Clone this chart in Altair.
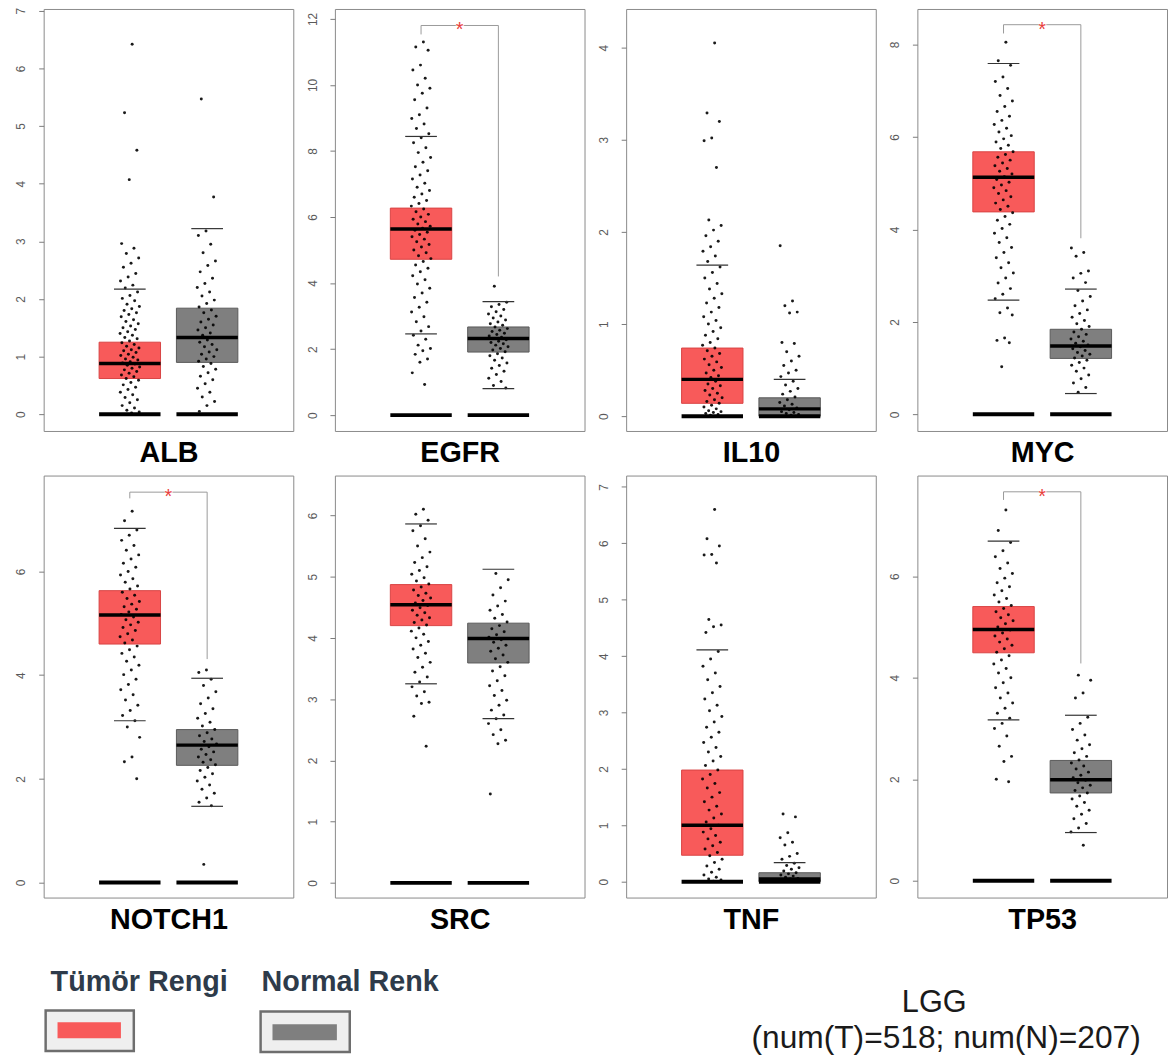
import altair as alt
import pandas as pd

GENES = ["ALB", "EGFR", "IL10", "MYC", "NOTCH1", "SRC", "TNF", "TP53"]
GROUPS = ["Tümör", "Normal"]
BOX_FILL = ["#f85a5a", "#7f7f7f"]
BOX_EDGE = ["#d94444", "#5a5a5a"]

Y_DOMAIN = {"ALB": [-0.29, 7.03], "EGFR": [-0.48, 12.3], "IL10": [-0.16, 4.42],
            "MYC": [-0.36, 8.77], "NOTCH1": [-0.29, 7.85], "SRC": [-0.24, 6.65],
            "TNF": [-0.28, 7.2], "TP53": [-0.33, 7.98]}
Y_TICKS = {"ALB": [0, 1, 2, 3, 4, 5, 6, 7], "EGFR": [0, 2, 4, 6, 8, 10, 12],
           "IL10": [0, 1, 2, 3, 4], "MYC": [0, 2, 4, 6, 8], "NOTCH1": [0, 2, 4, 6],
           "SRC": [0, 1, 2, 3, 4, 5, 6], "TNF": [0, 1, 2, 3, 4, 5, 6, 7], "TP53": [0, 2, 4, 6]}

# box statistics [Tümör, Normal]
Q1 = {"ALB": [0.62, 0.90], "EGFR": [4.72, 1.91], "IL10": [0.14, 0.0], "MYC": [4.38, 1.21],
      "NOTCH1": [4.60, 2.26], "SRC": [4.20, 3.59], "TNF": [0.47, 0.0], "TP53": [4.49, 1.73]}
MED = {"ALB": [0.88, 1.33], "EGFR": [5.64, 2.32], "IL10": [0.40, 0.08], "MYC": [5.13, 1.48],
       "NOTCH1": [5.16, 2.65], "SRC": [4.54, 3.99], "TNF": [1.00, 0.05], "TP53": [4.95, 1.99]}
Q3 = {"ALB": [1.25, 1.84], "EGFR": [6.27, 2.67], "IL10": [0.74, 0.20], "MYC": [5.68, 1.84],
      "NOTCH1": [5.63, 2.95], "SRC": [4.87, 4.24], "TNF": [1.98, 0.16], "TP53": [5.40, 2.37]}
CAP_LO = {"ALB": [0.0, 0.0], "EGFR": [2.46, 0.80], "IL10": [0.0, 0.0], "MYC": [2.47, 0.45],
          "NOTCH1": [3.12, 1.47], "SRC": [3.25, 2.68], "TNF": [0.0, 0.0], "TP53": [3.17, 0.95]}
CAP_HI = {"ALB": [2.17, 3.22], "EGFR": [8.44, 3.44], "IL10": [1.64, 0.40], "MYC": [7.59, 2.71],
          "NOTCH1": [6.83, 3.94], "SRC": [5.86, 5.12], "TNF": [4.11, 0.34], "TP53": [6.69, 3.26]}

# individual sample points (estimated)
PTS_T = {
    "ALB": [6.42, 5.23, 4.58, 4.07, 2.96, 2.88, 2.79, 2.71, 2.62, 2.55, 2.44, 2.38, 2.31, 2.24, 2.19, 2.12,
            2.06, 2.01, 1.97, 1.91, 1.87, 1.83, 1.8, 1.76, 1.73, 1.69, 1.64, 1.61, 1.57, 1.53, 1.5, 1.47,
            1.43, 1.4, 1.37, 1.33, 1.31, 1.27, 1.24, 1.21, 1.18, 1.15, 1.12, 1.1, 1.07, 1.04, 1.02, 0.99,
            0.96, 0.94, 0.91, 0.89, 0.87, 0.85, 0.82, 0.8, 0.77, 0.74, 0.71, 0.68, 0.65, 0.62, 0.59, 0.55,
            0.51, 0.47, 0.43, 0.38, 0.34, 0.29, 0.25, 0.2, 0.15, 0.11, 0.07, 0.04, 0.02],
    "EGFR": [11.3, 11.15, 11.05, 10.6, 10.45, 10.2, 10.0, 9.9, 9.75, 9.55, 9.3, 9.1, 8.98, 8.82, 8.68, 8.52,
             8.4, 8.25, 8.1, 7.95, 7.8, 7.66, 7.52, 7.4, 7.27, 7.15, 7.02, 6.9, 6.8, 6.7, 6.6, 6.5, 6.41,
             6.33, 6.24, 6.16, 6.08, 6.0, 5.93, 5.86, 5.79, 5.72, 5.66, 5.6, 5.54, 5.47, 5.4, 5.33, 5.25,
             5.17, 5.09, 5.0, 4.92, 4.83, 4.74, 4.65, 4.55, 4.45, 4.34, 4.22, 4.1, 3.97, 3.84, 3.7, 3.56,
             3.42, 3.27, 3.12, 2.98, 2.83, 2.68, 2.55, 2.42, 2.3, 2.12, 2.02, 1.95, 1.84, 1.7, 1.6, 1.28, 0.93],
    "IL10": [4.05, 3.29, 3.2, 3.02, 2.99, 2.7, 2.13, 2.07, 2.02, 1.96, 1.9, 1.84, 1.79, 1.74, 1.68, 1.62,
             1.56, 1.5, 1.44, 1.38, 1.33, 1.28, 1.23, 1.18, 1.13, 1.08, 1.04, 1.0, 0.96, 0.92, 0.88, 0.84,
             0.8, 0.77, 0.74, 0.71, 0.68, 0.65, 0.62, 0.59, 0.56, 0.53, 0.5, 0.47, 0.44, 0.42, 0.4, 0.38,
             0.35, 0.33, 0.3, 0.28, 0.25, 0.23, 0.2, 0.18, 0.16, 0.14, 0.12, 0.1, 0.08, 0.06, 0.05, 0.04,
             0.03, 0.02, 0.01],
    "MYC": [8.05, 7.65, 7.55, 7.3, 7.2, 7.05, 6.9, 6.78, 6.66, 6.55, 6.45, 6.36, 6.27, 6.19, 6.11, 6.03,
            5.96, 5.89, 5.82, 5.75, 5.68, 5.62, 5.56, 5.5, 5.44, 5.38, 5.32, 5.26, 5.2, 5.14, 5.08, 5.02,
            4.96, 4.9, 4.84, 4.78, 4.71, 4.64, 4.57, 4.5, 4.43, 4.36, 4.28, 4.2, 4.11, 4.02, 3.92, 3.82,
            3.72, 3.61, 3.5, 3.39, 3.28, 3.17, 3.06, 2.95, 2.84, 2.72, 2.6, 2.5, 2.3, 2.2, 2.15, 1.65,
            1.6, 1.55, 1.03],
    "NOTCH1": [7.16, 6.98, 6.8, 6.7, 6.6, 6.5, 6.41, 6.32, 6.24, 6.16, 6.08, 6.0, 5.93, 5.86, 5.79, 5.72,
               5.66, 5.6, 5.54, 5.48, 5.42, 5.37, 5.32, 5.27, 5.22, 5.17, 5.12, 5.07, 5.02, 4.97, 4.92,
               4.86, 4.8, 4.74, 4.68, 4.62, 4.56, 4.49, 4.42, 4.35, 4.27, 4.19, 4.1, 4.01, 3.92, 3.82,
               3.72, 3.62, 3.52, 3.42, 3.32, 3.22, 3.12, 3.0, 2.8, 2.42, 2.33, 2.0],
    "SRC": [6.1, 6.02, 5.92, 5.83, 5.75, 5.62, 5.5, 5.4, 5.31, 5.23, 5.16, 5.1, 5.04, 4.98, 4.93, 4.88,
            4.83, 4.78, 4.73, 4.69, 4.65, 4.61, 4.57, 4.53, 4.49, 4.45, 4.41, 4.37, 4.33, 4.29, 4.25,
            4.21, 4.16, 4.11, 4.06, 4.0, 3.94, 3.88, 3.82, 3.75, 3.68, 3.6, 3.52, 3.44, 3.36, 3.28, 3.2,
            3.12, 3.05, 2.95, 2.93, 2.72, 2.23],
    "TNF": [6.6, 6.08, 5.95, 5.8, 5.79, 5.65, 4.65, 4.55, 4.52, 4.42, 4.08, 3.95, 3.82, 3.7, 3.58, 3.46,
            3.35, 3.24, 3.13, 3.03, 2.93, 2.83, 2.74, 2.65, 2.56, 2.47, 2.38, 2.3, 2.22, 2.14, 2.06, 1.98,
            1.9, 1.82, 1.74, 1.66, 1.58, 1.5, 1.42, 1.34, 1.27, 1.2, 1.13, 1.06, 1.0, 0.94, 0.88, 0.82,
            0.76, 0.7, 0.64, 0.58, 0.52, 0.46, 0.4, 0.34, 0.28, 0.22, 0.17, 0.12, 0.08, 0.05, 0.03, 0.01],
    "TP53": [7.3, 6.9, 6.66, 6.5, 6.38, 6.26, 6.15, 6.05, 5.96, 5.87, 5.79, 5.71, 5.63, 5.56, 5.49, 5.42,
             5.36, 5.3, 5.24, 5.18, 5.12, 5.06, 5.0, 4.94, 4.88, 4.82, 4.76, 4.7, 4.64, 4.57, 4.5, 4.43,
             4.35, 4.27, 4.18, 4.09, 4.0, 3.9, 3.8, 3.7, 3.6, 3.5, 3.4, 3.3, 3.2, 3.1, 3.0, 2.85, 2.65,
             2.45, 2.35, 2.0, 1.95],
}
PTS_N = {
    "ALB": [5.47, 3.77, 3.18, 3.1, 2.95, 2.8, 2.66, 2.58, 2.47, 2.36, 2.27, 2.2, 2.12, 2.05, 1.98, 1.92,
            1.86, 1.81, 1.76, 1.7, 1.65, 1.6, 1.55, 1.5, 1.46, 1.41, 1.37, 1.33, 1.29, 1.25, 1.21, 1.17,
            1.12, 1.08, 1.04, 1.0, 0.96, 0.92, 0.88, 0.83, 0.78, 0.72, 0.66, 0.6, 0.53, 0.45, 0.38, 0.3,
            0.22, 0.15, 0.05],
    "EGFR": [3.9, 3.42, 3.35, 3.28, 3.2, 3.13, 3.06, 3.0, 2.94, 2.88, 2.82, 2.77, 2.72, 2.67, 2.62, 2.57,
             2.53, 2.48, 2.44, 2.4, 2.36, 2.32, 2.28, 2.24, 2.2, 2.16, 2.12, 2.07, 2.02, 1.97, 1.92, 1.86,
             1.8, 1.73, 1.66, 1.58, 1.5, 1.42, 1.33, 1.23, 1.12, 1.02, 0.9, 0.82],
    "IL10": [1.85, 1.25, 1.2, 1.13, 1.12, 0.8, 0.79, 0.7, 0.65, 0.6, 0.55, 0.5, 0.47, 0.43, 0.38, 0.34,
             0.3, 0.27, 0.24, 0.21, 0.18, 0.15, 0.13, 0.11, 0.09, 0.07, 0.05, 0.04, 0.03, 0.02, 0.01],
    "MYC": [3.6, 3.5, 3.42, 3.1, 3.05, 2.95, 2.85, 2.68, 2.55, 2.45, 2.35, 2.26, 2.18, 2.1, 2.03, 1.96,
            1.9, 1.84, 1.78, 1.73, 1.68, 1.63, 1.58, 1.54, 1.5, 1.46, 1.42, 1.38, 1.34, 1.3, 1.26, 1.22,
            1.17, 1.12, 1.06, 1.0, 0.93, 0.85, 0.77, 0.68, 0.58, 0.48],
    "NOTCH1": [4.1, 4.05, 3.92, 3.8, 3.68, 3.56, 3.45, 3.35, 3.26, 3.17, 3.09, 3.02, 2.95, 2.89, 2.83,
               2.77, 2.72, 2.67, 2.62, 2.57, 2.52, 2.47, 2.42, 2.37, 2.32, 2.27, 2.22, 2.16, 2.1, 2.03,
               1.96, 1.88, 1.8, 1.72, 1.63, 1.55, 1.48, 0.35],
    "SRC": [5.05, 4.95, 4.82, 4.7, 4.6, 4.52, 4.45, 4.38, 4.32, 4.26, 4.2, 4.15, 4.1, 4.05, 4.01, 3.97,
            3.93, 3.88, 3.83, 3.78, 3.72, 3.66, 3.6, 3.53, 3.46, 3.38, 3.3, 3.22, 3.14, 3.06, 2.98, 2.9,
            2.82, 2.74, 2.68, 2.6, 2.5, 2.42, 2.33, 2.27, 1.45],
    "TNF": [1.2, 1.15, 0.87, 0.78, 0.7, 0.65, 0.5, 0.45, 0.4, 0.33, 0.29, 0.25, 0.22, 0.19, 0.16, 0.14,
            0.12, 0.1, 0.08, 0.06, 0.05, 0.04, 0.03, 0.02, 0.01],
    "TP53": [4.05, 3.95, 3.7, 3.6, 3.22, 3.1, 2.98, 2.87, 2.77, 2.68, 2.6, 2.52, 2.45, 2.38, 2.32, 2.26,
             2.2, 2.14, 2.08, 2.03, 1.98, 1.93, 1.88, 1.83, 1.78, 1.73, 1.67, 1.61, 1.54, 1.47, 1.39, 1.31,
             1.22, 1.13, 1.04, 0.96, 0.7],
}

# significance brackets: (left end, top, right end)
BRACKET = {"EGFR": [11.53, 11.8, 4.2], "MYC": [8.24, 8.43, 3.81],
           "NOTCH1": [7.41, 7.53, 4.31], "TP53": [7.5, 7.66, 4.28]}

LEGEND_LABELS = ["Tümör Rengi", "Normal Renk"]
CAPTION = ["LGG", "(num(T)=518; num(N)=207)"]

FONT = "Liberation Sans"
PW, PH = 252, 426
BW = 62


def panel(g):
    xs = alt.Scale(domain=GROUPS, paddingInner=0.2, paddingOuter=0.714)
    xa = alt.Axis(title=g, labels=False, ticks=False, domain=False, grid=False,
                  titleFont=FONT, titleFontSize=29, titleFontWeight="bold", titleColor="black",
                  titlePadding=8, minExtent=0, maxExtent=0)
    ys = alt.Scale(domain=Y_DOMAIN[g], nice=False, zero=False)
    ya = alt.Axis(values=Y_TICKS[g], title=None, grid=False, domain=False, tickSize=5,
                  tickColor="#7a7a7a", labelAngle=270,
                  labelPadding=11, labelColor="#5a5a5a", labelFontSize=12, labelFont=FONT,
                  labelFlush=False, labelOverlap=False, minExtent=35, maxExtent=35)

    def X():
        return alt.X("grp:N", scale=xs, axis=xa)

    def Y(f):
        return alt.Y(f + ":Q", scale=ys, axis=ya)

    boxes = pd.DataFrame({"grp": GROUPS, "q1": Q1[g], "med": MED[g], "q3": Q3[g],
                          "lo": CAP_LO[g], "hi": CAP_HI[g], "zero": [0, 0]})
    pts = pd.DataFrame({"grp": [GROUPS[0]] * len(PTS_T[g]) + [GROUPS[1]] * len(PTS_N[g]),
                        "v": PTS_T[g] + PTS_N[g]})
    base = alt.Chart(boxes)
    box = base.mark_bar(strokeWidth=1, width=BW).encode(
        x=X(), y=Y("q1"), y2="q3:Q",
        fill=alt.Fill("grp:N", scale=alt.Scale(domain=GROUPS, range=BOX_FILL), legend=None),
        stroke=alt.Stroke("grp:N", scale=alt.Scale(domain=GROUPS, range=BOX_EDGE), legend=None))
    dots = alt.Chart(pts).transform_window(idx="row_number()").transform_calculate(
        jit="(datum.idx * 0.6180339887) % 1").mark_circle(size=9, color="black", opacity=0.9).encode(
        x=X(), xOffset=alt.XOffset("jit:Q", scale=alt.Scale(domain=[-1.05, 2.05])), y=Y("v"))
    med = base.mark_tick(orient="horizontal", size=BW, thickness=3.5, color="black", opacity=1).encode(
        x=X(), y=Y("med"))
    hi = base.mark_tick(orient="horizontal", size=32, thickness=1.2, color="#333333", opacity=1).encode(
        x=X(), y=Y("hi"))
    lo = base.mark_tick(orient="horizontal", size=32, thickness=1.2, color="#333333", opacity=1).encode(
        x=X(), y=Y("lo"))
    zero = base.mark_tick(orient="horizontal", size=BW, thickness=4, color="black", opacity=1).encode(
        x=X(), y=Y("zero"))
    layers = [box, dots, med, hi, lo, zero]
    if g in BRACKET:
        b = BRACKET[g]
        br = pd.DataFrame({"grp": [GROUPS[0], GROUPS[0], GROUPS[1], GROUPS[1]],
                           "y": [b[0], b[1], b[1], b[2]], "o": [0, 1, 2, 3]})
        line = alt.Chart(br).mark_line(color="#9a9a9a", strokeWidth=1).encode(
            x=X(), y=Y("y"), order="o:Q")
        st = pd.DataFrame({"grp": [GROUPS[0]], "y": [b[1]], "s": ["*"], "k": ["■"]})
        knock = alt.Chart(st).mark_text(color="white", fontSize=16, dx=39, baseline="middle").encode(
            x=X(), y=Y("y"), text="k:N")
        star = alt.Chart(st).mark_text(color="#e8403c", fontSize=20, dx=39, dy=5, baseline="middle",
                                       font=FONT).encode(x=X(), y=Y("y"), text="s:N")
        layers += [line, knock, star]
    return alt.layer(*layers).properties(width=PW, height=PH)


def txt(s, x, y, size, weight, color, align="left"):
    return alt.Chart(pd.DataFrame({"t": [s]})).mark_text(
        align=align, baseline="alphabetic", fontSize=size, fontWeight=weight, font=FONT,
        color=color).encode(x=alt.value(x), y=alt.value(y), text="t:N")


def rect(x, x2, y, y2, fill, stroke=None, sw=0):
    kw = dict(fill=fill)
    if stroke:
        kw.update(stroke=stroke, strokeWidth=sw)
    return alt.Chart(pd.DataFrame({"c": [1]})).mark_rect(**kw).encode(
        x=alt.value(x), x2=alt.value(x2), y=alt.value(y), y2=alt.value(y2))


# legend row view starts aligned with the panel plot areas (page x = 43)
OX, OY = -35, -8
legend = alt.layer(
    txt(LEGEND_LABELS[0], 42 + OX, 57 + OY, 29, "bold", "#2e3b4a"),
    txt(LEGEND_LABELS[1], 255 + OX, 57 + OY, 29, "bold", "#2e3b4a"),
    rect(37 + OX, 126 + OX, 77 + OY, 118 + OY, "#efefef", "#6e6e6e", 2.5),
    rect(49 + OX, 113 + OX, 89 + OY, 105 + OY, BOX_FILL[0]),
    rect(254 + OX, 344 + OX, 78 + OY, 119 + OY, "#efefef", "#6e6e6e", 2.5),
    rect(266 + OX, 331 + OX, 91 + OY, 107 + OY, BOX_FILL[1]),
    txt(CAPTION[0], 934 + OX, 79 + OY, 31, "normal", "#1a1a1a", "center"),
    txt(CAPTION[1], 946 + OX, 115 + OY, 32, "normal", "#1a1a1a", "center"),
).properties(width=1120, height=122 + OY, view=alt.ViewBackground(stroke="transparent"))

row1 = alt.hconcat(*[panel(g) for g in GENES[:4]], spacing=5)
row2 = alt.hconcat(*[panel(g) for g in GENES[4:]], spacing=5)

chart = alt.vconcat(row1, row2, legend, spacing=6).properties(
    padding={"left": 0, "top": -7, "right": 0, "bottom": 0}, background="white"
).configure_view(stroke="#8a8a8a", strokeWidth=1)

chart.save("out.html", embed_options={"renderer": "svg", "actions": False})
